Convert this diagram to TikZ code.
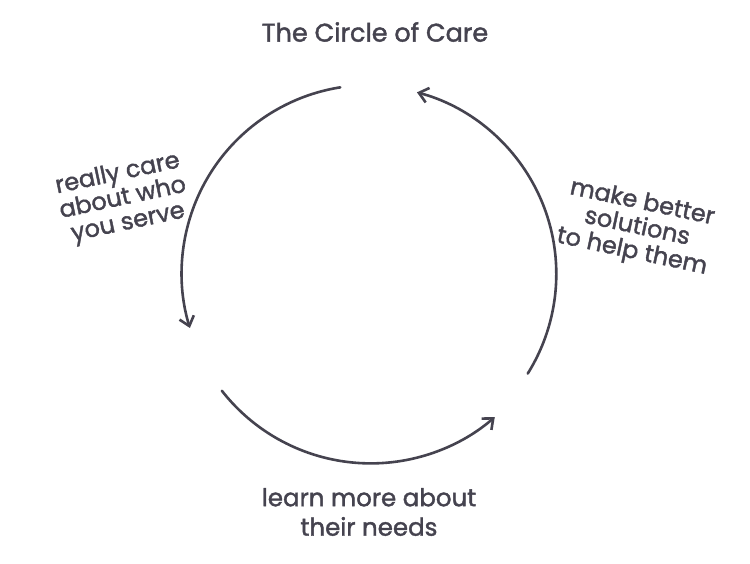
\documentclass[tikz,border=0pt]{standalone}
\usepackage{fontspec}
\setmainfont{Poppins}[RawFeature={embolden=1.6}]
\usetikzlibrary{arrows.meta,calc}
\definecolor{ink}{HTML}{45434F}
\tikzset{
  cyc/.style={draw=ink, line width=2.6pt, line cap=round, -{Straight Barb[length=9pt,width=15pt,line width=2.6pt]}},
  lbl/.style={text=ink, font=\fontsize{24}{25}\selectfont, align=center, inner sep=0pt},
}
\begin{document}
\begin{tikzpicture}[x=1pt,y=-1pt]
\path[use as bounding box, fill=white] (0,0) rectangle (750,563);
\coordinate (c) at (370,275);
\node[lbl, font=\fontsize{25.5}{26}\selectfont] (title) at (375,32) {The Circle of Care};
\node[lbl, rotate=12] (care) at (123,199) {really care\\about who\\you serve};
\node[lbl, rotate=-12] (make) at (637,228) {make better\\solutions\\to help them};
\node[lbl, font=\fontsize{24.5}{29.5}\selectfont] (learn) at (369,512) {learn more about\\their needs};
\draw[cyc] ($(c)+(-99:190)$) arc[start angle=-99, end angle=-197, radius=188];
\draw[cyc] ($(c)+(-218:188)$) arc[start angle=-218, end angle=-311, radius=189];
\draw[cyc] ($(c)+(32:186)$) arc[start angle=32, end angle=-75, radius=188];
\end{tikzpicture}
\end{document}
